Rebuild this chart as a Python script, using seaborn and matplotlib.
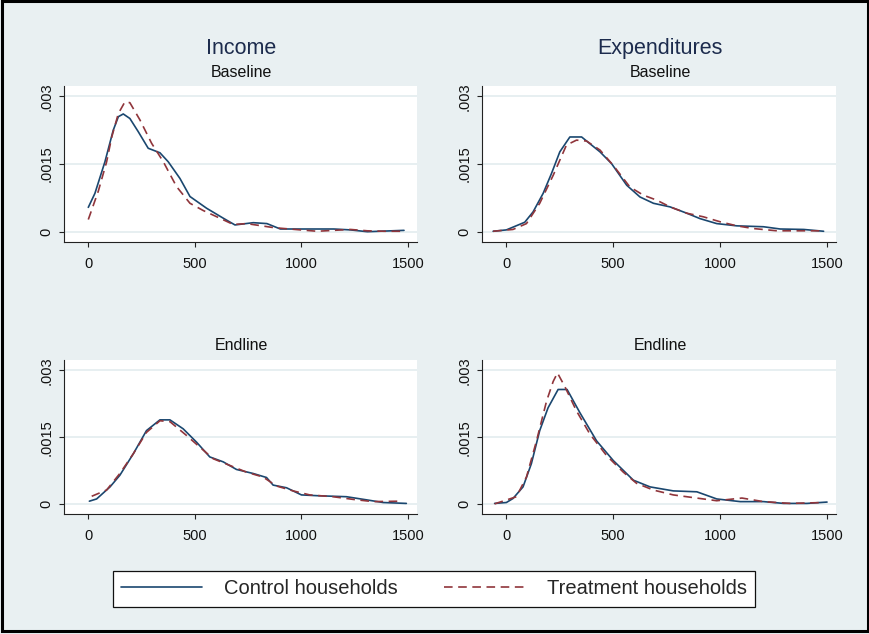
import numpy as np
import pandas as pd
import matplotlib
matplotlib.use("Agg")
import matplotlib.pyplot as plt
import seaborn as sns
from matplotlib.lines import Line2D
from matplotlib.patches import Rectangle

# densities, in units of 1e-3
inc_base_ctrl_x = [0, 31, 78, 117, 141, 164, 195, 234, 281, 336, 375, 430, 477, 555, 633, 688, 774, 838, 901, 995, 1152, 1230, 1309, 1481]
inc_base_ctrl_y = [0.54, 0.85, 1.55, 2.25, 2.55, 2.61, 2.51, 2.22, 1.85, 1.75, 1.55, 1.18, 0.78, 0.52, 0.30, 0.15, 0.20, 0.18, 0.06, 0.06, 0.06, 0.04, 0.0, 0.03]
inc_base_trt_x = [0, 47, 86, 110, 141, 172, 195, 242, 297, 352, 414, 477, 539, 617, 680, 743, 870, 995, 1074, 1230, 1309, 1387, 1465]
inc_base_trt_y = [0.27, 0.9, 1.55, 2.1, 2.62, 2.88, 2.86, 2.48, 1.96, 1.55, 1.0, 0.63, 0.47, 0.30, 0.16, 0.18, 0.09, 0.04, 0.01, 0.05, 0.02, 0.01, 0.01]

exp_base_ctrl_x = [-62, 0, 86, 125, 172, 211, 250, 297, 352, 391, 438, 492, 563, 625, 688, 766, 844, 906, 984, 1078, 1203, 1281, 1391, 1484]
exp_base_ctrl_y = [0.01, 0.04, 0.21, 0.44, 0.85, 1.29, 1.77, 2.10, 2.10, 1.95, 1.77, 1.51, 1.03, 0.77, 0.63, 0.55, 0.41, 0.29, 0.18, 0.13, 0.11, 0.06, 0.05, 0.01]
exp_base_trt_x = [-62, 31, 94, 156, 219, 281, 328, 375, 438, 500, 578, 641, 703, 766, 844, 922, 1000, 1078, 1156, 1266, 1359, 1484]
exp_base_trt_y = [0.01, 0.05, 0.18, 0.63, 1.25, 1.92, 2.03, 2.01, 1.81, 1.47, 0.99, 0.81, 0.70, 0.55, 0.41, 0.33, 0.22, 0.13, 0.07, 0.02, 0.02, 0.02]

inc_end_ctrl_x = [5, 39, 102, 148, 211, 273, 336, 383, 445, 508, 570, 633, 695, 773, 836, 867, 930, 1000, 1086, 1211, 1305, 1383, 1492]
inc_end_ctrl_y = [0.07, 0.12, 0.39, 0.65, 1.13, 1.65, 1.89, 1.89, 1.69, 1.39, 1.06, 0.95, 0.78, 0.69, 0.60, 0.43, 0.37, 0.21, 0.19, 0.17, 0.10, 0.04, 0.02]
inc_end_trt_x = [16, 86, 148, 211, 273, 336, 383, 461, 523, 586, 664, 742, 820, 883, 961, 1039, 1148, 1242, 1336, 1461]
inc_end_trt_y = [0.18, 0.32, 0.69, 1.13, 1.61, 1.87, 1.85, 1.54, 1.28, 1.02, 0.87, 0.72, 0.61, 0.41, 0.30, 0.21, 0.17, 0.11, 0.06, 0.07]

exp_end_ctrl_x = [-55, 0, 31, 78, 117, 156, 195, 242, 284, 344, 422, 500, 594, 672, 781, 891, 984, 1094, 1203, 1297, 1406, 1500]
exp_end_ctrl_y = [0.02, 0.04, 0.13, 0.39, 0.91, 1.65, 2.16, 2.57, 2.57, 2.05, 1.42, 0.98, 0.54, 0.39, 0.30, 0.28, 0.12, 0.06, 0.06, 0.02, 0.02, 0.05]
exp_end_trt_x = [-55, 47, 94, 141, 188, 219, 239, 273, 328, 391, 469, 547, 609, 687, 781, 859, 984, 1102, 1203, 1328, 1484]
exp_end_trt_y = [0.01, 0.17, 0.61, 1.42, 2.31, 2.75, 2.94, 2.64, 2.09, 1.57, 1.09, 0.72, 0.47, 0.32, 0.21, 0.16, 0.08, 0.14, 0.06, 0.02, 0.04]

groups = ["Control households", "Treatment households"]
col_titles = ["Income", "Expenditures"]
row_titles = ["Baseline", "Endline"]
x_ticks = [0, 500, 1000, 1500]
y_ticks = [0, 0.0015, 0.003]
y_tick_labels = ["0", ".0015", ".003"]

panels = {
    ("Income", "Baseline"): (inc_base_ctrl_x, inc_base_ctrl_y, inc_base_trt_x, inc_base_trt_y),
    ("Expenditures", "Baseline"): (exp_base_ctrl_x, exp_base_ctrl_y, exp_base_trt_x, exp_base_trt_y),
    ("Income", "Endline"): (inc_end_ctrl_x, inc_end_ctrl_y, inc_end_trt_x, inc_end_trt_y),
    ("Expenditures", "Endline"): (exp_end_ctrl_x, exp_end_ctrl_y, exp_end_trt_x, exp_end_trt_y),
}

rows = []
for (var, wave), (cx, cy, tx, ty) in panels.items():
    for x, y in zip(cx, cy):
        rows.append((var, wave, groups[0], x, y / 1000))
    for x, y in zip(tx, ty):
        rows.append((var, wave, groups[1], x, y / 1000))
df = pd.DataFrame(rows, columns=["var", "wave", "group", "x", "density"])

# styling
bg = "#E9F0F2"
navy = "#1A476F"
maroon = "#90353B"
palette = {groups[0]: navy, groups[1]: maroon}
dashes = {groups[0]: "", groups[1]: (6.2, 4)}

sns.set_style("white")
plt.rcParams["font.family"] = ["Liberation Sans", "DejaVu Sans"]
plt.rcParams["lines.scale_dashes"] = False

W, H = 869, 634
fig = plt.figure(figsize=(W / 100, H / 100), dpi=100, facecolor=bg)


def px_box(left, top, right, bottom):
    return [left / W, 1 - bottom / H, (right - left) / W, (bottom - top) / H]


boxes = {
    ("Income", "Baseline"): px_box(64, 86, 417, 241.5),
    ("Expenditures", "Baseline"): px_box(482, 86, 836, 241.5),
    ("Income", "Endline"): px_box(64, 360, 417, 514),
    ("Expenditures", "Endline"): px_box(482, 360, 836, 514),
}

for key, box in boxes.items():
    ax = fig.add_axes(box)
    ax.set_facecolor("white")
    sub = df[(df["var"] == key[0]) & (df["wave"] == key[1])]
    sns.lineplot(data=sub, x="x", y="density", hue="group", style="group",
                 palette=palette, dashes=dashes, estimator=None, sort=False,
                 linewidth=1.2, legend=False, ax=ax)
    ax.set_xlim(-114, 1542)
    ax.set_ylim(-0.000217, 0.00323)
    ax.set_xticks(x_ticks)
    ax.set_xticklabels([str(t) for t in x_ticks])
    ax.set_yticks(y_ticks)
    ax.set_yticklabels(y_tick_labels)
    for t in y_ticks:
        ax.axhline(t, color="#E3ECEF", lw=1.2, zorder=0)
    ax.set_xlabel("")
    ax.set_ylabel("")
    for s in ["top", "right"]:
        ax.spines[s].set_visible(False)
    for s in ["left", "bottom"]:
        ax.spines[s].set_color("#222222")
        ax.spines[s].set_linewidth(0.8)
    ax.tick_params(axis="both", direction="out", length=3.6, width=0.8,
                   color="#222222", labelsize=10.5, labelcolor="#111111")
    ax.tick_params(axis="x", pad=7.5, bottom=True)
    ax.tick_params(axis="y", pad=4, left=True)
    plt.setp(ax.get_yticklabels(), rotation=90, va="center", ha="right")

# column and row titles
for cx, title in zip([241, 660], col_titles):
    fig.text(cx / W, 1 - 54 / H, title, ha="center", va="baseline",
             fontsize=15.5, color="#1C2B4D")
    fig.text(cx / W, 1 - 77 / H, row_titles[0], ha="center", va="baseline",
             fontsize=11.5, color="#111111")
    fig.text(cx / W, 1 - 350 / H, row_titles[1], ha="center", va="baseline",
             fontsize=11.5, color="#111111")

# legend
handles = [Line2D([], [], color=navy, lw=1.2),
           Line2D([], [], color=maroon, lw=1.2, dashes=(6.2, 4))]
leg = fig.legend(handles, groups, loc="center", bbox_to_anchor=(434 / W, 1 - 589 / H),
                 ncol=2, frameon=True, fancybox=False, fontsize=14.5,
                 handlelength=4.0, handletextpad=1.1, columnspacing=2.3,
                 borderpad=0.42, borderaxespad=0)
leg.get_frame().set_edgecolor("#111111")
leg.get_frame().set_linewidth(0.9)
leg.get_frame().set_facecolor("white")
leg.get_frame().set_alpha(1)

# outer frame of the screenshot
fig.add_artist(Rectangle((1.5 / W, 3.5 / H), 866.5 / W, 630 / H, transform=fig.transFigure,
                         fill=False, lw=2.2, ec="black"))

fig.savefig("out.png", dpi=100, facecolor=bg)
